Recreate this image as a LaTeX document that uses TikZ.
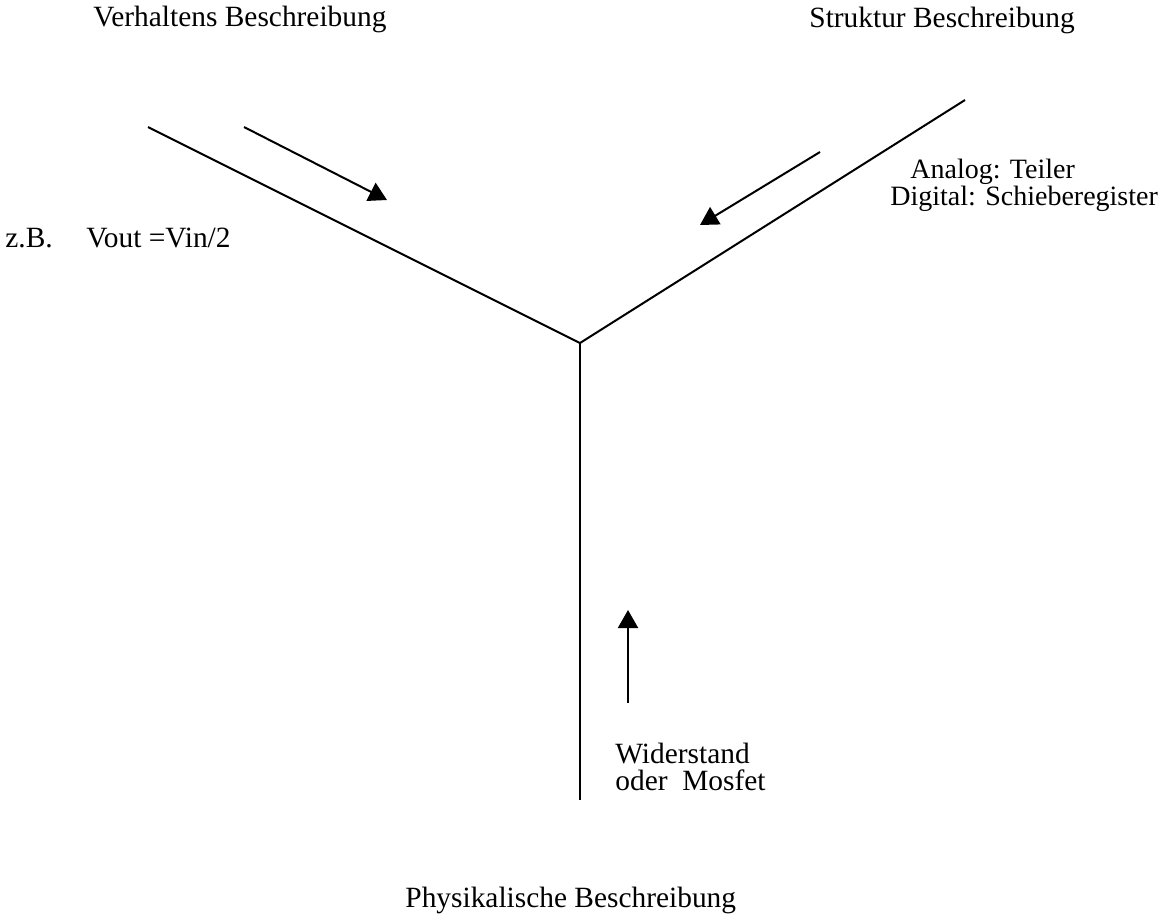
\documentclass[tikz,border=0pt]{standalone}
\usepackage{fontspec}
\setmainfont{Liberation Serif}
\usetikzlibrary{arrows.meta}
\begin{document}
\begin{tikzpicture}[x=0.5pt,y=-0.5pt,
  lbl/.style={anchor=base west,inner sep=0pt,font=\fontsize{14.7}{17}\selectfont},
  lblsmall/.style={lbl,font=\fontsize{14}{17}\selectfont},
  axis/.style={line width=1pt},
  flow/.style={line width=1pt,-{Triangle[length=9pt,width=10pt]}}]
\useasboundingbox (0,0) rectangle (1161,918);
% axes
\coordinate (J) at (580,343);
\coordinate (L) at (148,127);
\coordinate (R) at (965,100);
\coordinate (B) at (580,800);
\draw[axis] (L) -- (J) -- (R);
\draw[axis] (J) -- (B);
% arrows
\coordinate (a1s) at (244,127);
\coordinate (a1e) at (387,200);
\coordinate (a2s) at (820,152);
\coordinate (a2e) at (700,225);
\coordinate (a3s) at (628,703);
\coordinate (a3e) at (628,610);
\draw[flow] (a1s) -- (a1e);
\draw[flow] (a2s) -- (a2e);
\draw[flow] (a3s) -- (a3e);
% labels
\node[lbl] (verh) at (93,26) {Verhaltens Beschreibung};
\node[lbl] (strukt) at (809,27) {Struktur Beschreibung};
\node[lblsmall] (analog) at (910,178) {Analog: Teiler};
\node[lblsmall] (digital) at (890,205) {Digital: Schieberegister};
\node[lbl] (zb) at (5,247) {z.B.};
\node[lbl] (vout) at (86,247) {Vout =Vin/2};
\node[lbl,align=left,font=\fontsize{14.7}{13.5}\selectfont] (wid) at (615,790) {Widerstand\\oder\ \ Mosfet};
\node[lbl] (phys) at (405,907) {Physikalische Beschreibung};
\end{tikzpicture}
\end{document}
